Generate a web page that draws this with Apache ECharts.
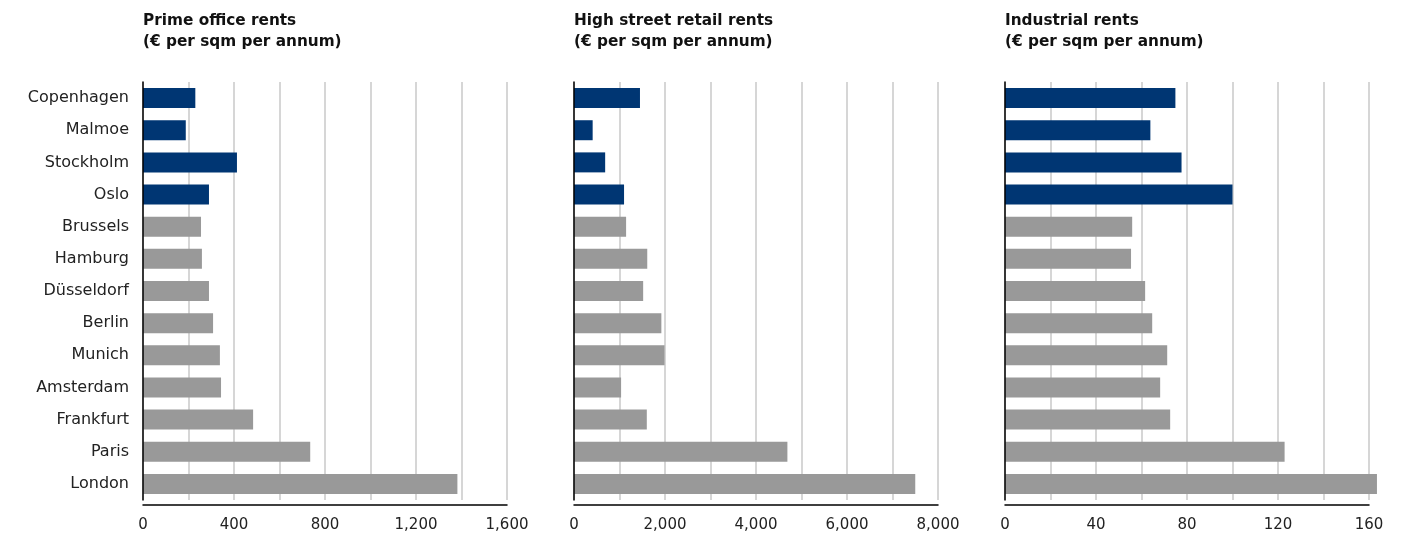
<!DOCTYPE html>
<html>
<head>
<meta charset="utf-8">
<script src="https://cdn.jsdelivr.net/npm/echarts@6/dist/echarts.min.js"></script>
<style>
  html, body { margin: 0; padding: 0; background: #fff; }
  #main { width: 1420px; height: 539px; }
</style>
</head>
<body>
<div id="main"></div>
<script>
// cities, top to bottom
var cities = ['Copenhagen', 'Malmoe', 'Stockholm', 'Oslo', 'Brussels', 'Hamburg', 'Düsseldorf',
              'Berlin', 'Munich', 'Amsterdam', 'Frankfurt', 'Paris', 'London'];
var nordic = ['Copenhagen', 'Malmoe', 'Stockholm', 'Oslo'];

// € per sqm per annum
var officeRents = [230, 188, 413, 290, 255, 259, 290, 308, 338, 343, 484, 735, 1382];
var retailRents = [1450, 410, 685, 1100, 1145, 1610, 1520, 1920, 1990, 1035, 1600, 4690, 7500];
var industrialRents = [74.9, 63.9, 77.6, 100, 55.9, 55.4, 61.6, 64.7, 71.3, 68.2, 72.6, 122.9, 163.5];

var titles = ['Prime office rents\n(€ per sqm per annum)',
              'High street retail rents\n(€ per sqm per annum)',
              'Industrial rents\n(€ per sqm per annum)'];

// axis ranges: [max, gridline step, label step]
var office_axis = [1600, 200, 400];
var retail_axis = [8000, 1000, 2000];
var industrial_axis = [160, 20, 40];

var FONT = 'DejaVu Sans';
var lefts = [143, 574, 1005];
var panelWidth = 364;

var myChart = echarts.init(document.getElementById('main'));

function numFmt(v) {
    return v.toLocaleString('en-US');
}

function makeXAxis(idx, ax) {
    return {
        gridIndex: idx,
        type: 'value',
        min: 0,
        max: ax[0],
        interval: ax[1],
        offset: 5,
        axisLine: { show: true, lineStyle: { color: '#000', width: 1.5 } },
        axisTick: { show: false },
        splitLine: { show: true, lineStyle: { color: '#c8c8c8', width: 1.5 } },
        axisLabel: {
            color: '#222',
            fontFamily: FONT,
            fontSize: 15,
            margin: 13,
            formatter: function (v) {
                return (v % ax[2] === 0) ? numFmt(v) : '';
            }
        }
    };
}

function makeYAxis(idx, showLabels) {
    return {
        gridIndex: idx,
        type: 'category',
        inverse: true,
        data: cities,
        z: 3,
        axisLine: { show: true, lineStyle: { color: '#000', width: 1.5 } },
        axisTick: { show: false },
        splitLine: { show: false },
        axisLabel: {
            show: showLabels,
            color: '#222',
            fontFamily: FONT,
            fontSize: 16,
            margin: 14
        }
    };
}

function makeSeries(idx, values) {
    return {
        type: 'bar',
        xAxisIndex: idx,
        yAxisIndex: idx,
        data: values,
        barWidth: 20,
        clip: false,
        silent: true,
        itemStyle: {
            color: function (p) {
                return nordic.indexOf(cities[p.dataIndex]) >= 0 ? '#003673' : '#999999';
            }
        }
    };
}

var option = {
    animation: false,
    title: titles.map(function (t, i) {
        return {
            text: t,
            left: lefts[i] - 5,
            top: 6,
            textStyle: {
                fontFamily: FONT,
                fontSize: 15.3,
                fontWeight: 'bold',
                color: '#111',
                lineHeight: 21
            }
        };
    }),
    grid: lefts.map(function (l) {
        return { left: l, width: panelWidth, top: 82, height: 418, containLabel: false };
    }),
    xAxis: [
        makeXAxis(0, office_axis),
        makeXAxis(1, retail_axis),
        makeXAxis(2, industrial_axis)
    ],
    yAxis: [
        makeYAxis(0, true),
        makeYAxis(1, false),
        makeYAxis(2, false)
    ],
    series: [
        makeSeries(0, officeRents),
        makeSeries(1, retailRents),
        makeSeries(2, industrialRents)
    ]
};

myChart.setOption(option);
</script>
</body>
</html>
